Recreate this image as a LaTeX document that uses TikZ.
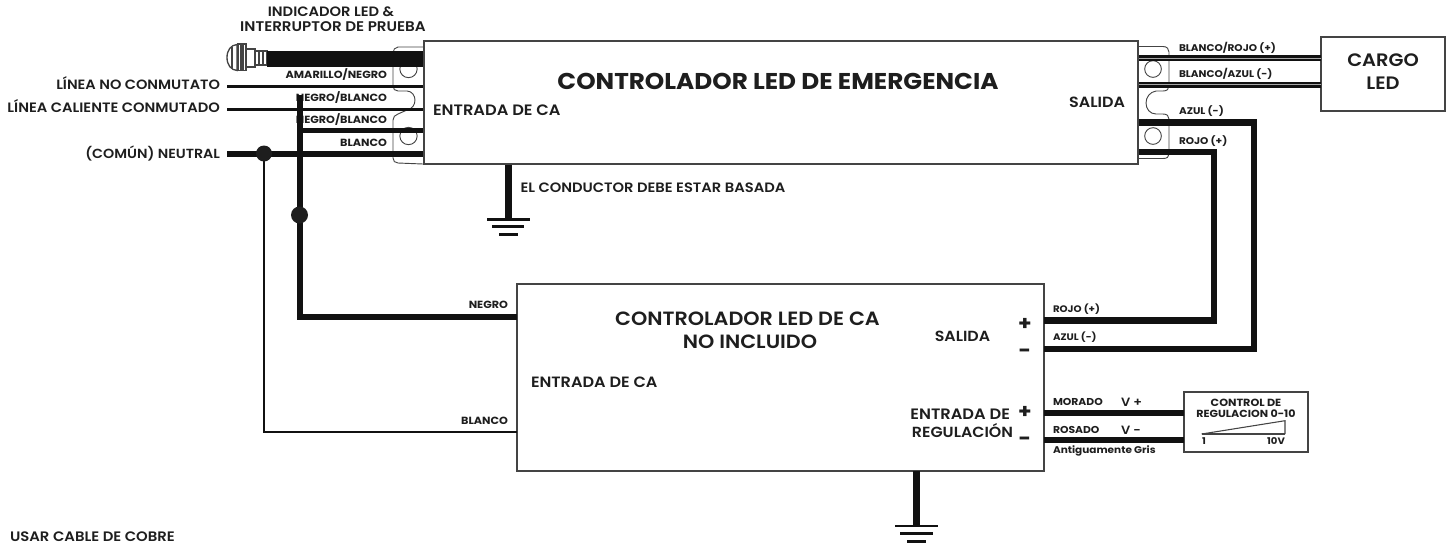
\documentclass[tikz,border=0pt]{standalone}
\usepackage{fontspec}
\setmainfont{Poppins}[BoldFont={Poppins SemiBold},FakeStretch=1.08]
\newfontfamily\heavy{Poppins}[FakeStretch=1.08]
\definecolor{wire}{HTML}{111111}
\definecolor{body}{HTML}{1E1E1E}
\definecolor{edge}{HTML}{444444}
\tikzset{
  x=0.75pt,y=-0.75pt,
  txt/.style={font=\bfseries\fontsize{#1}{#1}\selectfont,text=body,inner sep=0,outer sep=0,text height=0.7*#1 pt,text depth=0pt},
  txh/.style={font=\heavy\bfseries\fontsize{#1}{#1}\selectfont,text=body,inner sep=0,outer sep=0,text height=0.7*#1 pt,text depth=0pt},
  boxstyle/.style={draw=edge,line width=1.1pt,fill=white,inner sep=0,outer sep=0,anchor=north west},
  outline/.style={draw=edge,line width=0.7pt},
  w/.style={draw=wire,line width=#1*0.75pt},
  pair/.style={draw=wire,line width=4.5pt},
  paircore/.style={draw=gray!70,line width=0.45pt},
  bar/.style={draw=wire,line width=2pt},
  dot/.style={circle,fill=body,inner sep=0,outer sep=0,minimum size=#1*0.75pt},
}
\begin{document}
\begin{tikzpicture}
\useasboundingbox (0,0) rectangle (1449,544);
% boxes
\node[boxstyle,minimum width=535.5pt,minimum height=92.25pt] (main) at (424,41) {};
\node[boxstyle,minimum width=93pt,minimum height=55.5pt] (cargo) at (1321,37) {};
\node[boxstyle,minimum width=395.25pt,minimum height=140.25pt] (ac) at (517,284) {};
\node[boxstyle,minimum width=93pt,minimum height=45pt] (dim) at (1184,392) {};
% left bracket
\draw[outline] (423,47) -- (398,47) .. controls (395,47) and (393,50) .. (393,53) -- (393,86) .. controls (393,89) and (395,91) .. (398,91) -- (407,91) .. controls (412,91) and (415,96) .. (415,100) .. controls (415,105) and (412,109) .. (407,110) -- (398,114) .. controls (395,115) and (393,117) .. (393,120) -- (393,158) .. controls (393,161) and (395,163) .. (398,163) -- (423,164);
\node[circle,outline,minimum size=13pt,inner sep=0] (c1) at (408.5,69) {};
\node[circle,outline,minimum size=13pt,inner sep=0] (c2) at (408.5,136) {};
% right bracket
\draw[outline] (1139,46.5) -- (1163,46.5) .. controls (1167,46.5) and (1169,49) .. (1169,52) -- (1169,86) .. controls (1169,89) and (1167,91) .. (1163,91) -- (1156,91) .. controls (1150,92) and (1146,97) .. (1146,103) .. controls (1146,109) and (1150,114) .. (1156,114) -- (1163,114) .. controls (1167,114) and (1169,116) .. (1169,119) -- (1169,154) .. controls (1169,157) and (1167,158.5) .. (1163,158.5) -- (1139,158.5);
\node[circle,outline,minimum size=12.5pt,inner sep=0] (c3) at (1153,69) {};
\node[circle,outline,minimum size=12.5pt,inner sep=0] (c4) at (1153,136) {};
% small labels under wires
\node[txh=7.8,anchor=east] (l1) at (387,75) {AMARILLO/NEGRO};
\node[txh=7.8,anchor=east] (l2) at (387,98) {NEGRO/BLANCO};
\node[txh=7.8,anchor=east] (l3) at (387,120) {NEGRO/BLANCO};
\node[txh=7.8,anchor=east] (l4) at (387,143) {BLANCO};
% free wire ends
\coordinate (ledEnd) at (267,59);
\coordinate (lineA) at (227,86.5);
\coordinate (lineB) at (227,109.5);
\coordinate (lineN) at (227,153.5);
\coordinate (junN) at (264,153.5);
\coordinate (hotTop) at (299.5,95);
\coordinate (hotLow) at (299.5,130);
\coordinate (junH) at (299.5,215);
% LED lamp
\draw[draw=edge,line width=1pt,fill=white] (237,44.5) .. controls (231,45) and (227,50) .. (227,57.5) .. controls (227,65) and (231,70) .. (237,70.5) -- cycle;
\draw[draw=edge,line width=1pt] (232,46.5) -- (232,68.5);
\draw[draw=edge,line width=1pt,fill=white] (238,44) rectangle (246,70.5);
\draw[draw=edge,line width=1pt] (241,44) -- (241,70.5) (243,44) -- (243,70.5);
\draw[draw=edge,line width=1pt,fill=white] (246,49) rectangle (255,67);
\draw[draw=edge,line width=1pt,fill=white] (255,51) rectangle (267,65);
\draw[draw=edge,line width=1pt] (259,51) -- (259,65) (263,51) -- (263,65);
% input wires
\draw[w=16.5] (ledEnd) -- (ledEnd -| main.west);
\draw[w=3.8] (lineA) -- (lineA -| main.west);
\draw[w=3.5] (lineB) -- (lineB -| main.west);
\draw[w=5] (hotLow) -- (hotLow -| main.west);
\draw[w=6] (lineN) -- (lineN -| main.west);
\draw[w=6] (hotTop) -- (junH) |- (ac.west |- 0,317);
\draw[w=2.5] (junN) |- (ac.west |- 0,432);
\node[dot=16] (dn) at (junN) {};
\node[dot=17] (dh) at (junH) {};
% output wires
\draw[pair] (main.east |- 0,58) -- (cargo.west |- 0,58);
\draw[paircore] (main.east |- 0,58) -- (cargo.west |- 0,58);
\draw[pair] (main.east |- 0,84.7) -- (cargo.west |- 0,84.7);
\draw[paircore] (main.east |- 0,84.7) -- (cargo.west |- 0,84.7);
\draw[w=6.5] (main.east |- 0,122.5) -| (1254,349) -- (ac.east |- 0,349);
\draw[w=6.5] (main.east |- 0,152) -| (1214,320.7) -- (ac.east |- 0,320.7);
\draw[w=6.5] (ac.east |- 0,413) -- (dim.west |- 0,413);
\draw[w=6.5] (ac.east |- 0,440) -- (dim.west |- 0,440);
% grounds
\coordinate (g1) at (508.7,219.3);
\coordinate (g2) at (916.7,526);
\draw[w=7] (g1 |- main.south) -- (g1);
\draw[bar] (487,219.3) -- (530,219.3) (492,226.5) -- (524,226.5) (499,234.7) -- (518,234.7);
\draw[w=7] (g2 |- ac.south) -- (g2);
\draw[bar] (895,526) -- (938,526) (900,533.3) -- (932.5,533.3) (907,541.7) -- (926,541.7);
% redraw box edges over wires
\draw[draw=edge,line width=1.1pt] (main.north west) rectangle (main.south east);
% dimmer ramp
\draw[draw=edge,line width=0.8pt] (1201.7,434) -- (1285,420.7) -- (1285,434);
\draw[draw=edge,line width=1.2pt] (1201.7,434) -- (1285,434);
% text
\node[txt=10.2,anchor=center] (t1) at (331,12) {INDICADOR LED \&};
\node[txt=10.5,anchor=center] (t2) at (333,27) {INTERRUPTOR DE PRUEBA};
\node[txt=10.1,anchor=east] (t3) at (220,85) {LÍNEA NO CONMUTATO};
\node[txt=10.2,anchor=east] (t4) at (220,107.5) {LÍNEA CALIENTE CONMUTADO};
\node[txt=9.9,anchor=east] (t5) at (220,154) {(COMÚN) NEUTRAL};
\node[txh=17.15,anchor=center] (t6) at (778,81) {CONTROLADOR LED DE EMERGENCIA};
\node[txt=11.3,anchor=west] (t7) at (433,110) {ENTRADA DE CA};
\node[txt=11.1,anchor=east] (t8) at (1125,102) {SALIDA};
\node[txh=7.3,anchor=west] (t9) at (1179,48) {BLANCO/ROJO (+)};
\node[txh=7.3,anchor=west] (t10) at (1179,74) {BLANCO/AZUL (-)};
\node[txh=7.3,anchor=west] (t11) at (1179,111) {AZUL (-)};
\node[txh=7.3,anchor=west] (t12) at (1179,141) {ROJO (+)};
\node[txt=13.5,anchor=center] (t13) at (1383,60) {CARGO};
\node[txt=13.5,anchor=center] (t14) at (1383,83) {LED};
\node[txt=10.2,anchor=west] (t15) at (520.5,187.5) {EL CONDUCTOR DEBE ESTAR BASADA};
\node[txt=14.4,anchor=center] (t16) at (747.5,319) {CONTROLADOR LED DE CA};
\node[txt=14.4,anchor=center] (t17) at (750,342) {NO INCLUIDO};
\node[txt=11.2,anchor=west] (t18) at (531,382) {ENTRADA DE CA};
\node[txt=11,anchor=center] (t19) at (962.5,336) {SALIDA};
\node[txh=15,anchor=center] (t20) at (1025,323) {+};
\node[txh=15,anchor=center] (t21) at (1025,350) {-};
\node[txt=11.3,anchor=east] (t22) at (1010,414) {ENTRADA DE};
\node[txt=11,anchor=east] (t23) at (1013,432) {REGULACIÓN};
\node[txh=15,anchor=center] (t24) at (1025,411) {+};
\node[txh=15,anchor=center] (t25) at (1025,438) {-};
\node[txh=7.8,anchor=east] (t26) at (508,305) {NEGRO};
\node[txh=7.8,anchor=east] (t27) at (508,421) {BLANCO};
\node[txh=7.1,anchor=west] (t28) at (1053,309) {ROJO (+)};
\node[txh=7.1,anchor=west] (t29) at (1053,337) {AZUL (-)};
\node[txh=7.5,anchor=west] (t30) at (1053,402) {MORADO};
\node[txt=9,anchor=west] (t31) at (1121,402) {V +};
\node[txh=7.5,anchor=west] (t32) at (1053,430) {ROSADO};
\node[txt=9,anchor=west] (t33) at (1121,430) {V -};
\node[txh=7.3,anchor=west] (t34) at (1053,450) {Antiguamente Gris};
\node[txh=7.8,anchor=center] (t35) at (1246,403) {CONTROL DE};
\node[txh=7.7,anchor=center] (t36) at (1246,413.5) {REGULACION 0-10};
\node[txh=7,anchor=center] (t37) at (1204,441.5) {1};
\node[txh=7,anchor=center] (t38) at (1276,441.5) {10V};
\node[txt=10.3,anchor=west] (t39) at (10,537) {USAR CABLE DE COBRE};
\end{tikzpicture}
\end{document}
